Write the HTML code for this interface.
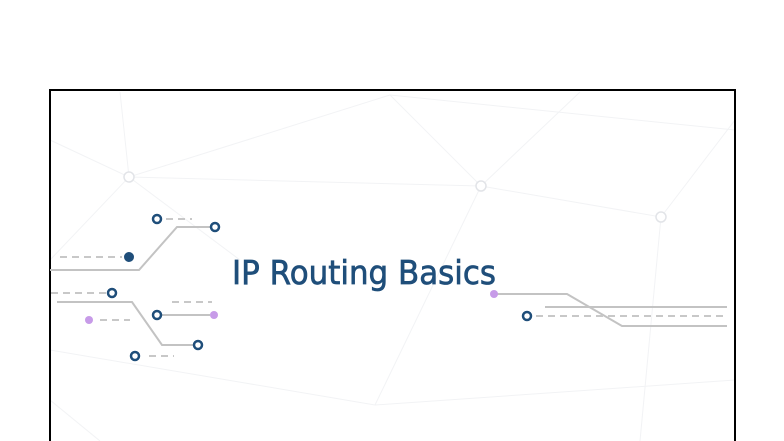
<!DOCTYPE html>
<html><head><meta charset="utf-8"><style>
html,body{margin:0;padding:0;background:#fff;width:784px;height:441px;overflow:hidden}
</style></head><body>
<svg width="784" height="441" viewBox="0 0 784 441" xmlns="http://www.w3.org/2000/svg">
<rect x="0" y="0" width="784" height="441" fill="#fff"/>
<g stroke="#f2f3f5" stroke-width="1" fill="none">
<path d="M50 140 L129 177 L390 95 L481 186 L661 217 L735 120"/>
<path d="M129 177 L481 186"/>
<path d="M120 92 L129 177 L50 260"/>
<path d="M390 95 L735 130"/>
<path d="M481 186 L580 92"/>
<path d="M661 217 L640 441"/>
<path d="M375 405 L50 350"/>
<path d="M375 405 L481 186"/>
<path d="M375 405 L735 380"/>
<path d="M50 400 L100 441"/>
<path d="M129 177 L240 260"/>
</g>
<g fill="#fff" stroke="#e2e4e8" stroke-width="1.5">
<circle cx="129" cy="177" r="5"/><circle cx="481" cy="186" r="5"/><circle cx="661" cy="217" r="5"/>
</g>
<rect x="50" y="90" width="685" height="360" fill="none" stroke="#000" stroke-width="2"/>
<g stroke="#c3c3c3" stroke-width="2" fill="none">
<path d="M50 270 L139 270 L177 227 L210 227"/>
<path d="M57 302 L132 302 L162 345 L193 345"/>
<path d="M161 315 L210 315"/>
<path d="M494 294 L567 294 L622 326 L727 326"/>
<path d="M545 307 L727 307"/>
</g>
<g stroke="#c8c8c8" stroke-width="2" fill="none" stroke-dasharray="7 5">
<path d="M166 219 L192 219"/>
<path d="M60 257 L122 257"/>
<path d="M51 293 L106 293"/>
<path d="M172 302 L212 302"/>
<path d="M100 320 L130 320"/>
<path d="M149 356 L174 356"/>
<path d="M536 316 L727 316"/>
</g>
<g fill="#fff" stroke="#1f4e7a" stroke-width="2.5">
<circle cx="157" cy="219" r="4"/><circle cx="215" cy="227" r="4"/>
<circle cx="112" cy="293" r="4"/><circle cx="198" cy="345" r="4"/>
<circle cx="157" cy="315" r="4"/><circle cx="135" cy="356" r="4"/>
<circle cx="527" cy="316" r="4"/>
</g>
<circle cx="129" cy="257" r="5" fill="#1f4e7a"/>
<g fill="#c79be8"><circle cx="214" cy="315" r="4"/><circle cx="89" cy="320" r="4"/><circle cx="494" cy="294" r="4"/></g>
<text x="232" y="284" font-family="DejaVu Sans, sans-serif" font-size="33" fill="#1f4e7a" stroke="#1f4e7a" stroke-width="0.7" textLength="264" lengthAdjust="spacingAndGlyphs">IP Routing Basics</text>
</svg>
</body></html>
